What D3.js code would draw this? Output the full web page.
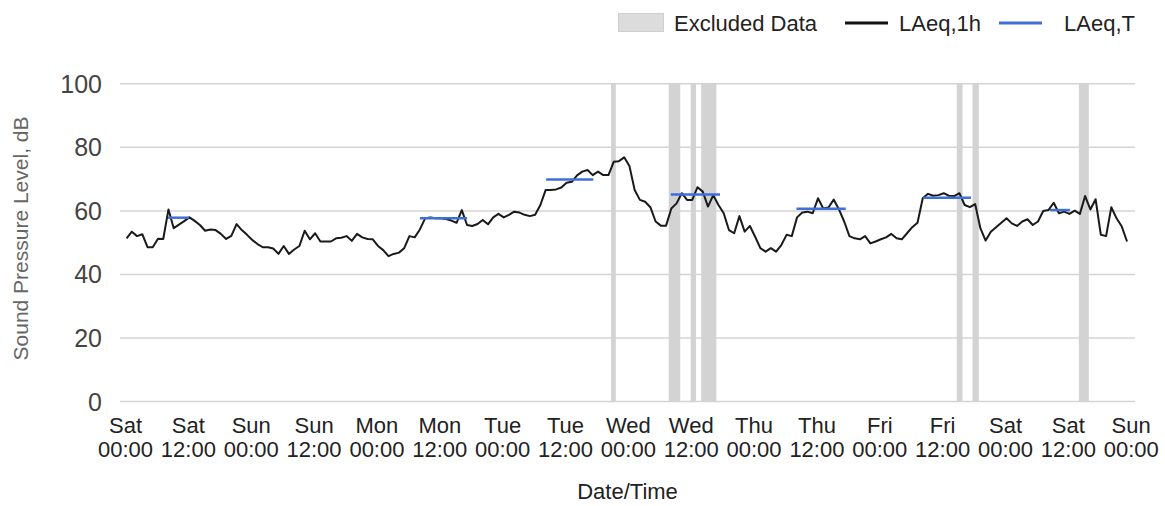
<!DOCTYPE html>
<html><head><meta charset="utf-8">
<script src="https://cdn.jsdelivr.net/npm/d3@7"></script>
<style>
html,body{margin:0;padding:0;background:#fff;}
svg{display:block;font-family:"Liberation Sans",Arial,sans-serif;}
</style></head><body>
<svg id="chart" width="1165" height="506"></svg>
<script>
// ---- data ----
const tickHours = [0,12,24,36,48,60,72,84,96,108,120,132,144,156,168,180,192];
const dayLabels = ["Sat","Sat","Sun","Sun","Mon","Mon","Tue","Tue","Wed","Wed","Thu","Thu","Fri","Fri","Sat","Sat","Sun"];
const timeLabels = ["00:00","12:00","00:00","12:00","00:00","12:00","00:00","12:00","00:00","12:00","00:00","12:00","00:00","12:00","00:00","12:00","00:00"];
const yTicks = [0,20,40,60,80,100];

const firstReadingHour = 0.3;
const laeq1h = [
51.2,53.3,51.9,52.5,48.4,48.4,51.1,51.0,60.3,54.4,55.5,56.6,57.8,56.7,55.4,53.6,54.0,53.8,52.6,51.0,52.0,55.7,53.8,52.3,
50.7,49.4,48.4,48.4,48.0,46.3,48.8,46.3,47.7,48.8,53.6,50.9,52.8,50.2,50.2,50.2,51.2,51.4,51.9,50.4,52.6,51.5,51.0,50.9,
48.8,47.5,45.6,46.3,46.7,48.1,51.9,51.5,54.0,57.5,57.8,57.5,57.5,57.3,56.8,56.1,60.1,55.4,55.1,55.7,57.0,55.6,57.8,58.9,
57.8,58.6,59.6,59.3,58.6,58.2,58.6,61.7,66.4,66.4,66.6,67.2,68.7,69.0,71.0,72.2,72.7,71.1,72.2,71.1,71.1,75.3,75.5,76.7,
74.0,66.4,63.3,62.7,61.0,56.5,55.2,55.2,60.6,62.2,65.4,63.3,63.3,67.3,65.9,61.2,64.8,61.7,59.1,53.8,52.8,58.2,53.3,55.1,
51.7,48.1,47.0,48.1,47.0,49.1,52.3,51.9,57.8,59.3,59.6,59.1,63.8,60.6,60.9,63.4,60.3,56.5,51.9,51.2,50.9,51.9,49.6,50.2,
50.9,51.5,52.6,51.2,50.9,52.8,54.7,56.1,63.8,65.2,64.6,64.8,65.4,64.6,64.5,65.4,61.7,61.0,62.0,54.4,50.5,53.3,54.7,56.1,
57.5,55.9,55.1,56.5,57.2,55.4,56.5,59.8,60.1,62.4,59.1,59.6,58.9,59.9,58.9,64.5,60.3,63.5,52.3,51.9,61.0,57.5,54.9,50.2
];

const excludedStart = [92.8,103.8,108.0,110.0,158.8,161.8,182.1];
const excludedEnd   = [93.7,106.0,109.0,112.9,159.9,163.0,184.0];

const laeqTStart = [8.2,56.3,80.4,104.2,128.2,152.4,176.6];
const laeqTEnd   = [12.2,65.3,89.4,113.6,137.6,161.5,180.4];
const laeqTValue = [57.7,57.5,69.7,65.0,60.5,64.0,60.1];

const legendLabels = ["Excluded Data","LAeq,1h","LAeq,T"];

// ---- layout ----
const svg = d3.select("#chart");
const plotL = 120, plotR = 1135, plotT = 83.3, plotB = 401;
const x = d3.scaleLinear().domain([0,192]).range([125,1130.7]);
const y = d3.scaleLinear().domain([0,100]).range([plotB, plotT]);

svg.append("rect").attr("width",1165).attr("height",506).attr("fill","#fff");

// gridlines + y labels
const yAxis = svg.append("g").attr("transform",`translate(${plotL},0)`)
  .call(d3.axisLeft(y).tickValues(yTicks).tickSize(-(plotR-plotL)).tickPadding(18).tickFormat(d3.format("d")));
yAxis.select(".domain").remove();
yAxis.selectAll(".tick line").attr("stroke","#d4d4d4").attr("stroke-width",1.5);
yAxis.selectAll(".tick text").attr("fill","#444").attr("font-size","25px")
  .attr("font-family",'"Liberation Sans",Arial,sans-serif').attr("dy","0.36em");

// excluded bands
const bands = d3.range(excludedStart.length).map(i => ({s:excludedStart[i], e:excludedEnd[i]}));
svg.append("g").selectAll("rect").data(bands).join("rect")
  .attr("x", d => x(d.s)).attr("width", d => x(d.e)-x(d.s))
  .attr("y", plotT).attr("height", plotB-plotT)
  .attr("fill","#d3d3d3");

// black line
const line = d3.line().x((d,i) => x(i + firstReadingHour)).y(d => y(d));
svg.append("path").datum(laeq1h).attr("d", line)
  .attr("fill","none").attr("stroke","#1a1a1a").attr("stroke-width",2).attr("stroke-linejoin","round");

// blue segments
const segs = d3.range(laeqTStart.length).map(i => ({s:laeqTStart[i], e:laeqTEnd[i], v:laeqTValue[i]}));
svg.append("g").selectAll("line").data(segs).join("line")
  .attr("x1", d => x(d.s)).attr("x2", d => x(d.e))
  .attr("y1", d => y(d.v)).attr("y2", d => y(d.v))
  .attr("stroke","#3f6fd8").attr("stroke-width",2.5);

// x axis labels
const xAxis = svg.append("g").attr("transform",`translate(0,${plotB})`)
  .call(d3.axisBottom(x).tickValues(tickHours).tickSize(0).tickFormat(() => ""));
xAxis.select(".domain").remove();
xAxis.selectAll(".tick text").each(function(d,i){
  const t = d3.select(this).attr("y",0).attr("dy",null)
    .attr("fill","#222").attr("font-size","22px").attr("font-family",'"Liberation Sans",Arial,sans-serif');
  t.append("tspan").attr("x",0).attr("y",32).text(dayLabels[i]);
  t.append("tspan").attr("x",0).attr("y",56).text(timeLabels[i]);
});

// axis titles
svg.append("text").attr("x",627.5).attr("y",499).attr("text-anchor","middle")
  .attr("font-size","22px").attr("fill","#222").text("Date/Time");
svg.append("text").attr("transform","translate(28,238.5) rotate(-90)").attr("text-anchor","middle")
  .attr("font-size","21px").attr("fill","#666").text("Sound Pressure Level, dB");

// legend
const lg = svg.append("g");
lg.append("rect").attr("x",618.5).attr("y",13.5).attr("width",45).attr("height",18)
  .attr("fill","#dcdcdc").attr("stroke","#cfcfcf");
lg.append("text").attr("x",674).attr("y",31).attr("font-size","22px").attr("fill","#222").text(legendLabels[0]);
lg.append("line").attr("x1",845).attr("x2",888).attr("y1",23).attr("y2",23).attr("stroke","#111").attr("stroke-width",3);
lg.append("text").attr("x",899).attr("y",31).attr("font-size","22px").attr("fill","#222").text(legendLabels[1]);
lg.append("line").attr("x1",999).attr("x2",1042).attr("y1",23).attr("y2",23).attr("stroke","#3f6fd8").attr("stroke-width",3);
lg.append("text").attr("x",1064).attr("y",31).attr("font-size","22px").attr("fill","#222").text(legendLabels[2]);
</script>
</body></html>
